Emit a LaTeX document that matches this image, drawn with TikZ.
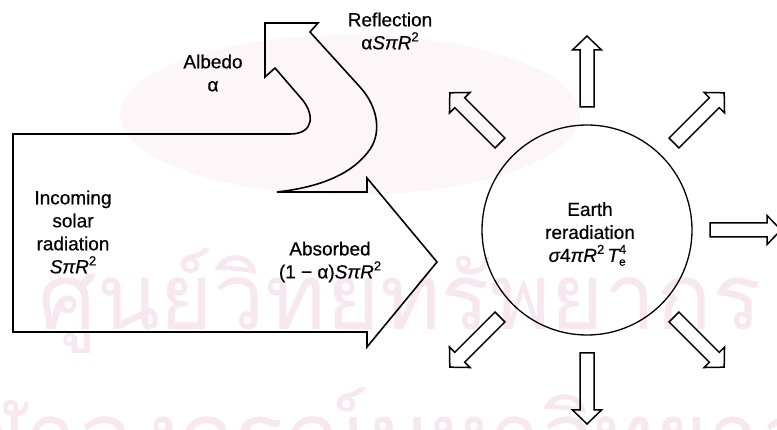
\documentclass[tikz,border=0pt]{standalone}
\usepackage{fontspec}
\setmainfont{Liberation Sans}[FakeBold=0.5]
\newfontfamily\thaifont[Script=Thai]{Loma}
\definecolor{wm}{RGB}{247,231,239}
\definecolor{wmbg}{RGB}{252,246,249}
\newcommand{\supr}[1]{\raisebox{0.42em}{\fontsize{13}{13}\selectfont #1}}
\begin{document}
\begin{tikzpicture}[x=1pt,y=-1pt,line join=miter,
  lbl/.style={align=center,font=\fontsize{19}{23}\selectfont,inner sep=0pt},
  wmtext/.style={text=wm,inner sep=0pt,font=\thaifont\fontsize{92}{92}\selectfont},
  outline/.style={draw=black,line width=1.6pt},
  ray/.style={draw=black,line width=1.5pt}]
\useasboundingbox (0,0) rectangle (777,430);
\clip (0,0) rectangle (777,430);
% faint watermark
\fill[wmbg] (350,115) ellipse (230 and 80);
\node[wmtext,anchor=base] (wm1) at (400,330) {ศูนย์วิทยทรัพยากร};
\node[wmtext,anchor=base] (wm2) at (390,468) {จุฬาลงกรณ์มหาวิทยาลัย};
% incoming / reflected / absorbed arrow
\draw[outline] (13,134) -- (13,332) -- (367,332) -- (367,347) -- (437,262)
  -- (367,178) -- (367,192) -- (277,192)
  .. controls (312,188) and (348,178) .. (368,152)
  .. controls (382,135) and (379,108) .. (360,87)
  -- (310,32) -- (318,23) -- (265,23) -- (265,77) -- (275,68) -- (300,97)
  .. controls (315,113) and (315,134) .. (290,134) -- cycle;
% earth
\node[circle,draw=black,line width=1.3pt,minimum size=210pt,inner sep=0pt] (earth) at (587,230) {};
\foreach \a in {0,45,90,135,225,270,315}
  \draw[ray,shift={(earth.center)},rotate=\a]
    (123,-7) -- (180,-7) -- (180,-14.5) -- (194,0) -- (180,14.5) -- (180,7) -- (123,7) -- cycle;
% labels
\node[lbl] (albedo) at (213,73) {Albedo\\α};
\node[lbl] (refl) at (390,31) {Reflection\\α{\itshape SπR}\supr{2}};
\node[lbl] (incoming) at (73,232) {Incoming\\solar\\radiation\\{\itshape SπR}\supr{2}};
\node[lbl] (absorbed) at (330,262) {Absorbed\\(1 − α){\itshape SπR}\supr{2}};
\node[lbl] (earthtxt) at (590,234) {Earth\\reradiation\\{\itshape σ}4{\itshape πR}\supr{2}\,{\itshape T}\rlap{\supr{4}}\raisebox{-0.2em}{\fontsize{12}{12}\selectfont e}\kern0.3em};
\end{tikzpicture}
\end{document}
